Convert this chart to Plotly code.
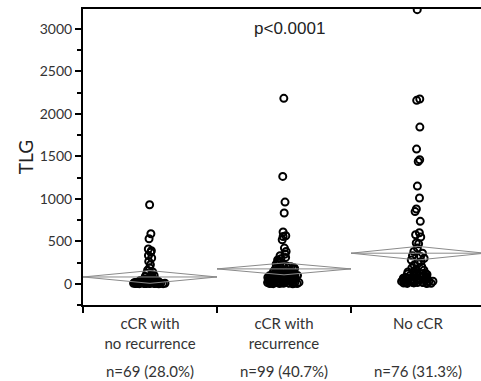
import plotly.graph_objects as go

categories = ["cCR with<br>no recurrence", "cCR with<br>recurrence", "No cCR"]
n_labels = ["n=69 (28.0%)", "n=99 (40.7%)", "n=76 (31.3%)"]

g1 = [930, 589, 530, 409, 389, 370, 333, 303, 263, 224, 190, 160,
      140, 125, 110, 98, 85, 76, 68, 60, 55, 50,
      45, 42, 38, 35, 32, 30, 28, 26, 24, 22,
      20, 18, 17, 16, 15, 14, 13, 12, 11, 10,
      9, 8, 8, 7, 6, 6, 5, 5, 4, 4,
      3, 3, 2, 2, 1,
      48, 36, 27, 19, 14, 9, 7, 5, 3, 2, 1, 0]
g2 = [2183, 1264, 962, 833, 609, 565, 557, 518, 420,
      380, 350, 330, 310, 295, 280, 270, 260, 250, 240,
      230, 220, 210, 200, 195, 190, 185, 180, 175, 170,
      165, 160, 155, 150, 145, 140, 135, 130, 125, 120,
      115, 110, 105, 100, 98, 95, 92, 90, 87, 85,
      82, 80, 77, 75, 72, 70, 67, 65, 62, 60,
      58, 55, 53, 50, 48, 45, 43, 40, 38, 35,
      33, 30, 28, 26, 24, 22, 20, 18, 16, 14,
      12, 10, 9, 8, 7, 6, 5, 4, 3, 2,
      40, 60, 80, 100, 120, 25, 15, 11, 1, 0]
g3 = [3227, 2175, 2160, 1845, 1586, 1460, 1440, 1150, 1010, 880, 850,
      735, 600, 577, 550, 480, 470, 420, 380, 360, 330, 320,
      300, 280, 260, 240, 220, 200, 185, 170, 160, 150,
      140, 130, 125, 120, 115, 110, 105, 100, 95, 90,
      85, 80, 75, 70, 66, 62, 58, 55, 52, 50,
      47, 44, 41, 38, 35, 32, 30, 28, 25, 22,
      20, 18, 16, 14, 12, 10, 8, 6, 4, 2,
      45, 65, 28, 15]
groups = [g1, g2, g3]

means = [80, 175, 360]
ci_half = [75, 70, 80]

y_ticks = [0, 500, 1000, 1500, 2000, 2500, 3000]
p_text = "p<0.0001"

fig = go.Figure()

dcol = "#8a8a8a"
for i, (m, c) in enumerate(zip(means, ci_half)):
    fig.add_trace(go.Scatter(
        x=[i - 0.5, i, i + 0.5, i, i - 0.5],
        y=[m, m + c, m, m - c, m],
        mode="lines", line=dict(color=dcol, width=1),
        hoverinfo="skip", showlegend=False))
    fig.add_trace(go.Scatter(
        x=[i - 0.5, i + 0.5], y=[m, m],
        mode="lines", line=dict(color=dcol, width=1),
        hoverinfo="skip", showlegend=False))

for i, g in enumerate(groups):
    fig.add_trace(go.Box(
        x=[i] * len(g), y=g,
        boxpoints="all", jitter=0.42, pointpos=0, width=0.6,
        fillcolor="rgba(0,0,0,0)", line=dict(color="rgba(0,0,0,0)", width=0),
        marker=dict(symbol="circle-open", size=7, color="black",
                    line=dict(width=2, color="black")),
        showlegend=False))

fig.add_annotation(x=1.04, y=3000, xref="x", yref="y", text=p_text,
                   showarrow=False, xanchor="center", yanchor="middle",
                   font=dict(family="Liberation Sans", size=17, color="#222"))

for i, t in enumerate(n_labels):
    fig.add_annotation(x=i, y=-0.222, xref="x", yref="paper", text=t,
                       showarrow=False, xanchor="center", yanchor="middle",
                       font=dict(family="Lato", size=15, color="#333"))

fig.update_layout(
    width=481, height=381,
    margin=dict(l=83, r=0, t=9, b=76),
    plot_bgcolor="white", paper_bgcolor="white",
    boxmode="overlay",
    font=dict(family="Lato", size=14, color="#333"),
    xaxis=dict(
        type="linear", range=[-0.5, 2.47],
        tickvals=[0, 1, 2], ticktext=categories,
        ticks="", showgrid=False, zeroline=False,
        showline=True, linecolor="black", linewidth=2, mirror=True,
        tickfont=dict(family="Lato", size=15, color="#333"),
        ticklabelstandoff=4,
        minor=dict(tick0=0.5, dtick=1, ticks="outside", ticklen=6,
                   tickcolor="black", tickwidth=1.5, showgrid=False),
    ),
    yaxis=dict(
        range=[-250, 3235],
        tickvals=y_ticks,
        ticks="outside", ticklen=6, tickwidth=1.5, tickcolor="black",
        showgrid=False, zeroline=False,
        showline=True, linecolor="black", linewidth=2,
        tickfont=dict(family="Lato", size=14, color="#333"),
        title=dict(text="TLG", font=dict(family="Lato", size=19, color="#222"), standoff=1),
        minor=dict(dtick=250, ticks="outside", ticklen=4, tickwidth=1.5,
                   tickcolor="black", showgrid=False),
    ),
)

fig.write_html("out.html")
